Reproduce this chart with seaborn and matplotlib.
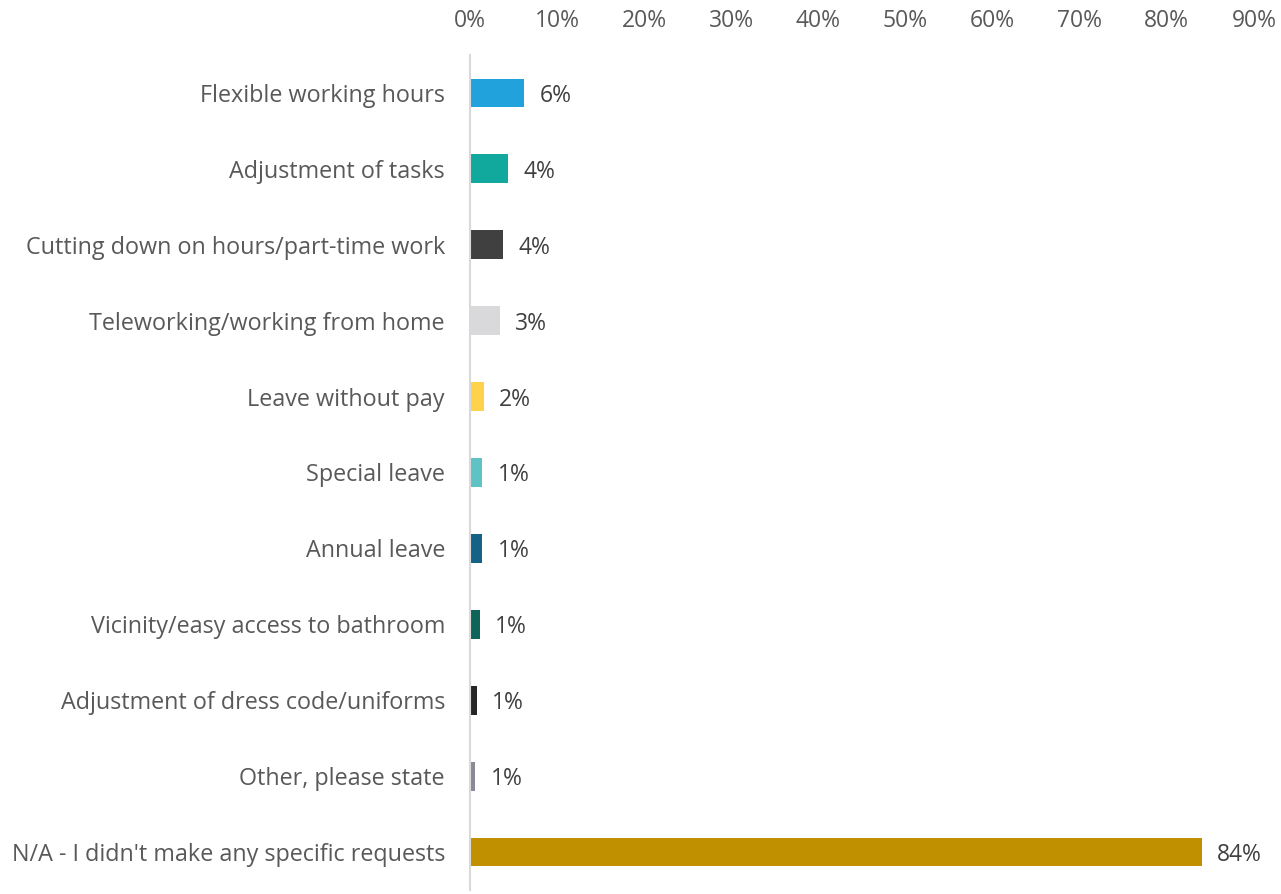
import pandas as pd
import seaborn as sns
import matplotlib.pyplot as plt
from matplotlib.ticker import FuncFormatter

# Survey answers and share of respondents (%)
categories = ['Flexible working hours', 'Adjustment of tasks', 'Cutting down on hours/part-time work',
              'Teleworking/working from home', 'Leave without pay', 'Special leave', 'Annual leave',
              'Vicinity/easy access to bathroom', 'Adjustment of dress code/uniforms',
              'Other, please state', "N/A - I didn't make any specific requests"]
shares = [6.2, 4.4, 3.8, 3.4, 1.6, 1.4, 1.4, 1.1, 0.8, 0.6, 84.0]
bar_colors = ['#22A2DC', '#11A99D', '#404040', '#D9D9DB', '#FFD24B', '#5FC3C6',
              '#146286', '#0E6458', '#262626', '#8A8A96', '#C09000']
x_ticks = [0, 10, 20, 30, 40, 50, 60, 70, 80, 90]

df = pd.DataFrame({'Request': categories, 'Share': shares})

sns.set_theme(style='white')
plt.rcParams['font.family'] = ['Open Sans', 'DejaVu Sans']

fig = plt.figure(figsize=(12.81, 8.94), dpi=100)
ax = fig.add_axes([0.3669, 0.0045, 0.612, 0.934])

sns.barplot(data=df, x='Share', y='Request', hue='Request', palette=bar_colors,
            orient='h', width=0.38, saturation=1, linewidth=0, legend=False, ax=ax)

ax.set_xlim(0, 90)
ax.set_xticks(x_ticks)
ax.xaxis.set_major_formatter(FuncFormatter(lambda v, p: f'{v:.0f}%'))
ax.xaxis.tick_top()
ax.tick_params(axis='x', length=0, pad=16, labelsize=16.5, labelcolor='#595959')
ax.tick_params(axis='y', length=0, pad=18, labelsize=16.8, labelcolor='#595959')
ax.set_xlabel('')
ax.set_ylabel('')

for side in ['top', 'right', 'bottom']:
    ax.spines[side].set_visible(False)
ax.spines['left'].set_color('#D9D9D9')
ax.spines['left'].set_linewidth(1.5)

for cont in ax.containers:
    txts = ax.bar_label(cont, labels=[f'{v:.0f}%' for v in cont.datavalues], padding=11,
                        fontsize=16.5, color='#404040')
    for t in txts:
        t.set_va('center_baseline')

fig.savefig('out.png', dpi=100)
